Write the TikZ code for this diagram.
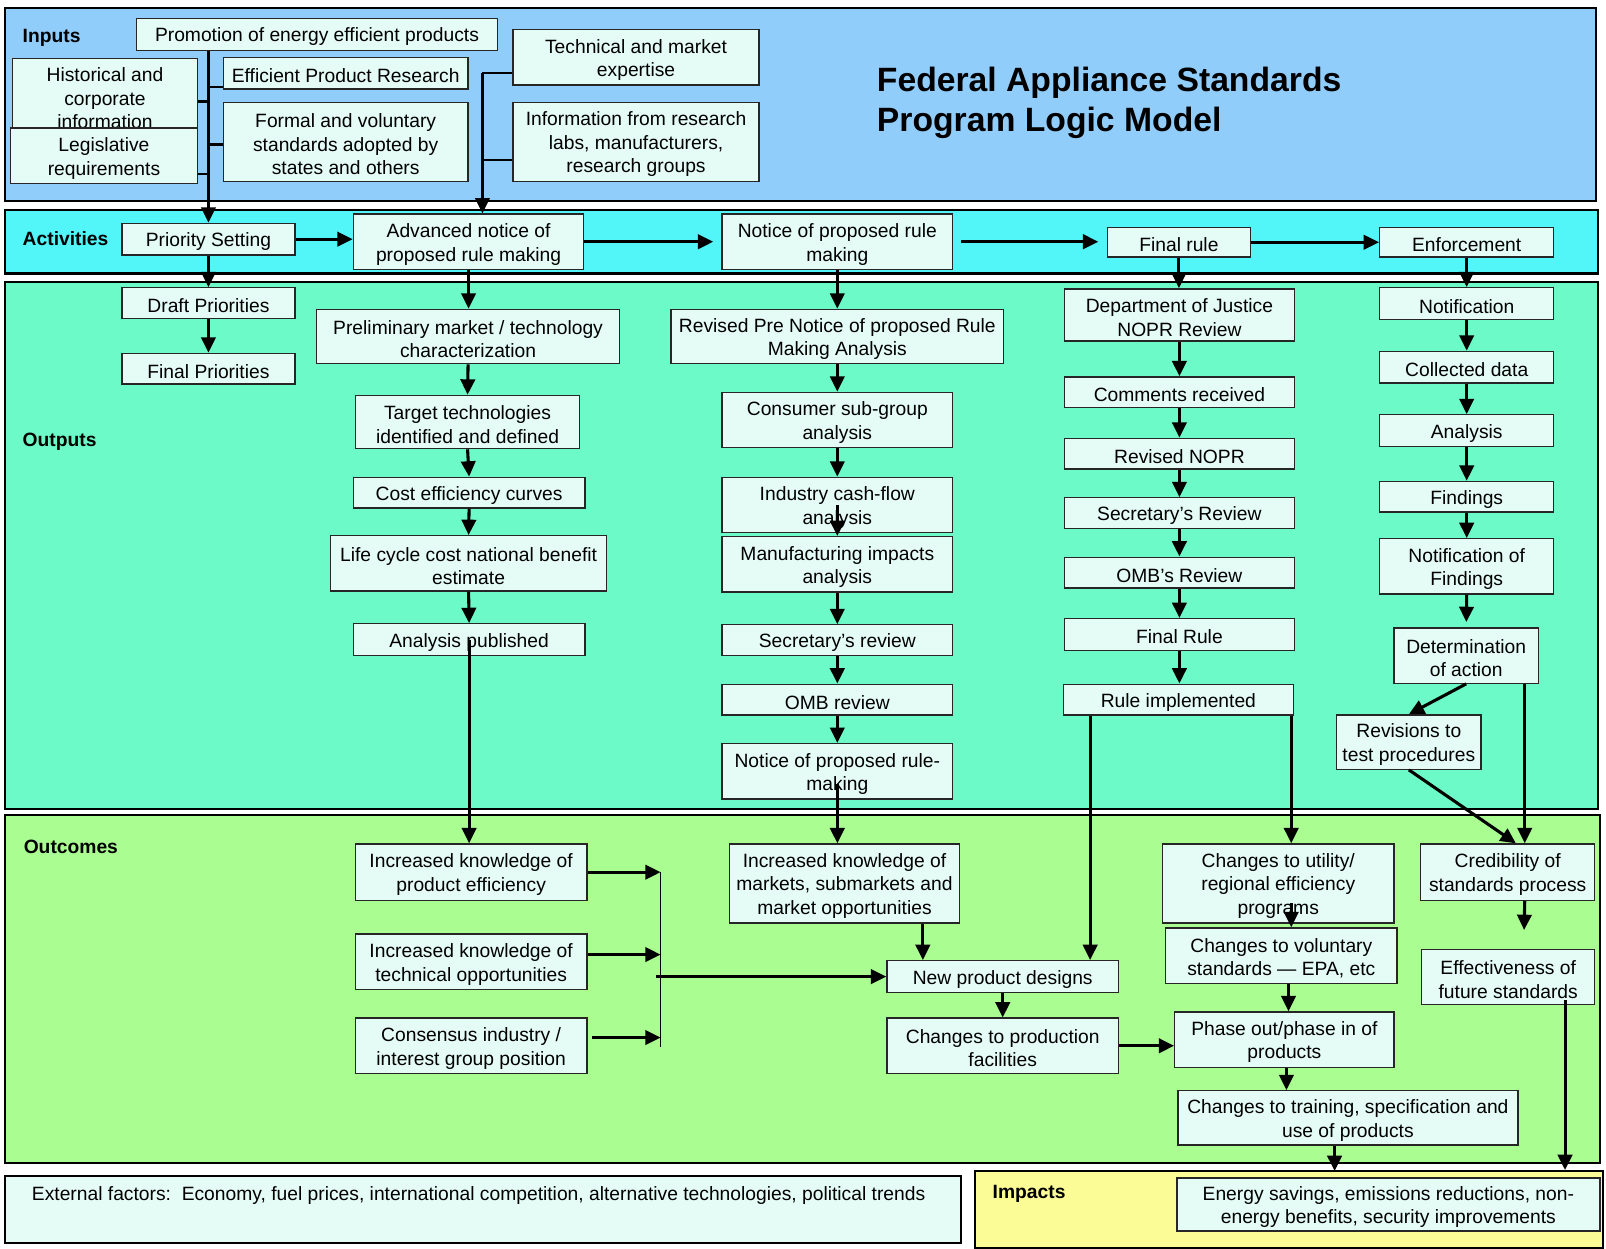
\documentclass[tikz,border=0pt]{standalone}
\usepackage{fontspec}
\setmainfont{Liberation Sans}
\usetikzlibrary{arrows.meta,calc}
\definecolor{inpbg}{RGB}{145,205,250}
\definecolor{actbg}{RGB}{82,245,248}
\definecolor{outbg}{RGB}{108,250,200}
\definecolor{ocmbg}{RGB}{170,253,145}
\definecolor{impbg}{RGB}{252,252,150}
\definecolor{boxbg}{RGB}{228,252,245}
% box from its corners: name, x1, y1, x2, y2, text (text sits in its own node, name + "t")
\newcommand\boxat[6]{%
  \node[box, minimum width={#4-#2}, minimum height={#5-#3}] (#1) at ({(#2+#4)/2},{(#3+#5)/2}) {};%
  \node[boxtext] (#1t) at ([yshift=-2.5pt]#1.center) {#6};}
\begin{document}
\begin{tikzpicture}[x=1pt,y=-1pt,
  every node/.style={font=\fontsize{18.8}{23}\selectfont},
  box/.style={draw=black!85, fill=boxbg, line width=1.3pt, inner sep=0pt},
  boxtext/.style={align=center, inner sep=0pt},
  lbl/.style={font=\fontsize{18.8}{23}\selectfont\bfseries, anchor=west, inner sep=0pt},
  arr/.style={line width=3pt, -{Triangle[length=15pt,width=14pt]}},
  link/.style={line width=2.2pt},
  panel/.style={draw=black, line width=2pt}]
\useasboundingbox (0,0) rectangle (1568,1219);
\fill[white] (0,0) rectangle (1568,1219);

% bands
\draw[panel, fill=inpbg] (5,8) rectangle (1558,196);
\draw[panel, fill=actbg] (5,205) rectangle (1560,267);
\draw[panel, fill=outbg] (5,275) rectangle (1560,790);
\draw[panel, fill=ocmbg] (5,796) rectangle (1562,1135);
\draw[panel, fill=boxbg] (5,1148) rectangle (938,1214);
\draw[panel, fill=impbg] (952,1143) rectangle (1565,1218);

% band labels
\node[lbl] (linp) at (22,37) {Inputs};
\node[lbl] (lact) at (22,233) {Activities};
\node[lbl] (lout) at (22,431) {Outputs};
\node[lbl] (locm) at (23,827) {Outcomes};
\node[lbl] (limp) at (969,1166) {Impacts};
\node[anchor=west, inner sep=0pt, align=left, font=\fontsize{32.9}{39}\selectfont\bfseries] (title) at (856,100)
  {Federal Appliance Standards\\Program Logic Model};
\node[anchor=west, inner sep=0pt] (ext) at (31,1167)
  {External factors:\ \ Economy, fuel prices, international competition, alternative technologies, political trends};

% inputs
\boxat{promo}{133}{18}{486}{49}{Promotion of energy efficient products}
\boxat{hist}{12}{57}{193}{130}{Historical and\\corporate\\information}
\boxat{leg}{10}{125}{193}{179}{Legislative\\requirements}
\boxat{epr}{218}{56}{457}{87}{Efficient Product Research}
\boxat{formal}{218}{100}{457}{177}{Formal and voluntary\\standards adopted by\\states and others}
\boxat{tech}{501}{29}{741}{83}{Technical and market\\expertise}
\boxat{info}{501}{100}{741}{177}{Information from research\\labs, manufacturers,\\research groups}

% activities
\boxat{ps}{119}{218}{288}{249}{Priority Setting}
\boxat{adv}{345}{209}{570}{263}{Advanced notice of\\proposed rule making}
\boxat{npra}{705}{209}{930}{263}{Notice of proposed rule\\making}
\boxat{fr}{1081}{222}{1221}{251}{Final rule}
\boxat{enf}{1347}{222}{1517}{251}{Enforcement}

% outputs
\boxat{dp}{119}{281}{288}{311}{Draft Priorities}
\boxat{fp}{119}{345}{288}{375}{Final Priorities}
\boxat{prelim}{309}{302}{605}{355}{Preliminary market / technology\\characterization}
\boxat{target}{347}{386}{566}{438}{Target technologies\\identified and defined}
\boxat{cost}{345}{466}{571}{496}{Cost efficiency curves}
\boxat{lcc}{323}{523}{592}{577}{Life cycle cost national benefit\\estimate}
\boxat{ap}{345}{609}{571}{640}{Analysis published}
\boxat{rpn}{655}{302}{980}{355}{Revised Pre Notice of proposed Rule\\Making Analysis}
\boxat{csg}{705}{383}{930}{437}{Consumer sub-group\\analysis}
\boxat{icf}{705}{466}{930}{520}{Industry cash-flow\\analysis}
\boxat{mia}{705}{524}{930}{578}{Manufacturing impacts\\analysis}
\boxat{sec}{705}{610}{930}{640}{Secretary’s review}
\boxat{omb}{705}{668}{930}{698}{OMB review}
\boxat{nprm}{705}{726}{930}{780}{Notice of proposed rule-\\making}
\boxat{doj}{1039}{282}{1264}{333}{Department of Justice\\NOPR Review}
\boxat{com}{1039}{368}{1264}{398}{Comments received}
\boxat{rnopr}{1039}{428}{1264}{458}{Revised NOPR}
\boxat{secr}{1039}{486}{1264}{516}{Secretary’s Review}
\boxat{ombr}{1039}{544}{1264}{574}{OMB’s Review}
\boxat{frule}{1039}{604}{1264}{635}{Final Rule}
\boxat{rimp}{1038}{668}{1263}{698}{Rule implemented}
\boxat{notif}{1347}{281}{1517}{312}{Notification}
\boxat{coll}{1347}{343}{1517}{374}{Collected data}
\boxat{anal}{1347}{405}{1517}{436}{Analysis}
\boxat{find}{1347}{470}{1517}{500}{Findings}
\boxat{nof}{1347}{526}{1517}{580}{Notification of\\Findings}
\boxat{det}{1361}{613}{1502}{667}{Determination\\of action}
\boxat{revt}{1305}{698}{1446}{751}{Revisions to\\test procedures}

% outcomes
\boxat{ikpe}{347}{824}{573}{879}{Increased knowledge of\\product efficiency}
\boxat{ikto}{347}{912}{573}{966}{Increased knowledge of\\technical opportunities}
\boxat{cons}{347}{994}{573}{1048}{Consensus industry /\\interest group position}
\boxat{ikm}{712}{824}{937}{901}{Increased knowledge of\\markets, submarkets and\\market opportunities}
\boxat{npd}{866}{938}{1092}{969}{New product designs}
\boxat{cpf}{866}{994}{1092}{1048}{Changes to production\\facilities}
\boxat{util}{1135}{824}{1361}{901}{Changes to utility/\\regional efficiency\\programs}
\boxat{vol}{1138}{906}{1364}{960}{Changes to voluntary\\standards — EPA, etc}
\boxat{phase}{1147}{988}{1361}{1042}{Phase out/phase in of\\products}
\boxat{train}{1150}{1065}{1482}{1118}{Changes to training, specification and\\use of products}
\boxat{cred}{1387}{824}{1557}{879}{Credibility of\\standards process}
\boxat{eff}{1388}{927}{1557}{981}{Effectiveness of\\future standards}

% impacts
\boxat{energy}{1149}{1150}{1562}{1202}{Energy savings, emissions reductions, non-\\energy benefits, security improvements}

% input connectors
\coordinate (jl1) at (203,99);
\coordinate (jl2) at (203,170);
\coordinate (jr1) at (203,85);
\coordinate (jr2) at (203,141);
\draw[arr] (promo.south -| ps.north) -- (ps.north);
\draw[link] (hist.east |- jl1) -- (jl1);
\draw[link] (leg.east |- jl2) -- (jl2);
\draw[link] (jr1) -- (jr1 -| epr.west);
\draw[link] (jr2) -- (jr2 -| formal.west);
\coordinate (rt) at (471,71);
\coordinate (rb) at (471,156);
\draw[link] (tech.west |- rt) -- (rt);
\draw[arr] (rt) -- (rt |- adv.north);
\draw[link] (info.west |- rb) -- (rb);

% activity chain
\draw[arr] (ps.east) -- (ps.east -| adv.west);
\draw[arr, shorten >=8pt] (adv.east) -- (adv.east -| npra.west);
\draw[arr, shorten <=8pt, shorten >=8pt] (npra.east) -- (npra.east -| fr.west);
\draw[arr] (fr.east) -- (enf.west);

% output chains
\draw[arr] (ps.south) -- (dp.north);
\draw[arr] (dp.south) -- (fp.north);
\draw[arr] (adv.south) -- (adv.south |- prelim.north);
\draw[arr] (prelim.south) -- (target.north);
\draw[arr] (target.south) -- (cost.north);
\draw[arr] (cost.south) -- (lcc.north);
\draw[arr] (lcc.south) -- (ap.north);
\draw[arr] (npra.south) -- (rpn.north);
\draw[arr] (rpn.south) -- (csg.north);
\draw[arr] (csg.south) -- (icf.north);
\draw[arr] (icf.center) -- (mia.north);
\draw[arr] (mia.south) -- (sec.north);
\draw[arr] (sec.south) -- (omb.north);
\draw[arr] (omb.south) -- (nprm.north);
\draw[arr] (fr.south) -- (fr.south |- doj.north);
\draw[arr] (doj.south) -- (com.north);
\draw[arr] (com.south) -- (rnopr.north);
\draw[arr] (rnopr.south) -- (secr.north);
\draw[arr] (secr.south) -- (ombr.north);
\draw[arr] (ombr.south) -- (frule.north);
\draw[arr] (frule.south) -- (rimp.north -| frule.south);
\draw[arr] (enf.south) -- (notif.north);
\draw[arr] (notif.south) -- (coll.north);
\draw[arr] (coll.south) -- (anal.north);
\draw[arr] (anal.south) -- (find.north);
\draw[arr] (find.south) -- (nof.north);
\draw[arr, shorten >=5pt] (nof.south) -- (det.north);
\draw[arr] (det.south) -- (revt.north);

% outputs to outcomes
\draw[arr] (ap.center) -- (ap.center |- ikpe.north);
\draw[arr] ([yshift=-12pt]nprm.center) -- (nprm.center |- ikm.north);
\coordinate (rl) at ($(rimp.south west)+(27,0)$);
\coordinate (rr) at ($(rimp.south east)+(-3,0)$);
\draw[arr] (rl) -- (rl |- npd.north);
\draw[arr] (rr) -- (rr |- util.north);
\coordinate (dr) at ($(det.south east)+(-14,0)$);
\draw[arr] (dr) -- (dr |- cred.north);
\draw[arr] (revt.south) -- ($(cred.north)+(8,0)$);

% outcome connectors
\coordinate (barT) at (645,851);
\coordinate (barB) at (645,1022);
\draw[line width=1.5pt] (barT) -- (barB);
\draw[arr] (ikpe.east) -- (ikpe.east -| barT);
\draw[arr] ($(ikto.east)+(0,-7)$) -- ($(ikto.east -| barT)+(0,-7)$);
\draw[arr] ($(cons.east)+(4,-8)$) -- ($(cons.east -| barT)+(0,-8)$);
\draw[arr] ($(npd.west -| barT)+(-5,0)$) -- (npd.west);
\coordinate (c901) at (901,0);
\draw[arr] (ikm.south -| c901) -- (npd.north -| c901);
\draw[arr] (npd.south) -- (cpf.north);
\draw[arr] (cpf.east) -- (cpf.east -| phase.west);
\draw[arr] ($(rr |- util.south)+(0,-20)$) -- (rr |- vol.north);
\coordinate (c1258) at (1258,0);
\draw[arr] (vol.south -| c1258) -- (phase.north -| c1258);
\coordinate (c1256) at (1256,0);
\draw[arr] (phase.south -| c1256) -- (train.north -| c1256);
\coordinate (c1303) at (1303,0);
\draw[arr, shorten >=6pt] (train.south -| c1303) -- (energy.north -| c1303);
\coordinate (credend) at (1488,908);
\draw[arr] (cred.south -| dr) -- (credend);
\coordinate (c1528) at (1528,0);
\draw[arr, shorten >=7pt] ($(eff.south -| c1528)+(0,-5)$) -- (energy.north -| c1528);
\end{tikzpicture}
\end{document}
